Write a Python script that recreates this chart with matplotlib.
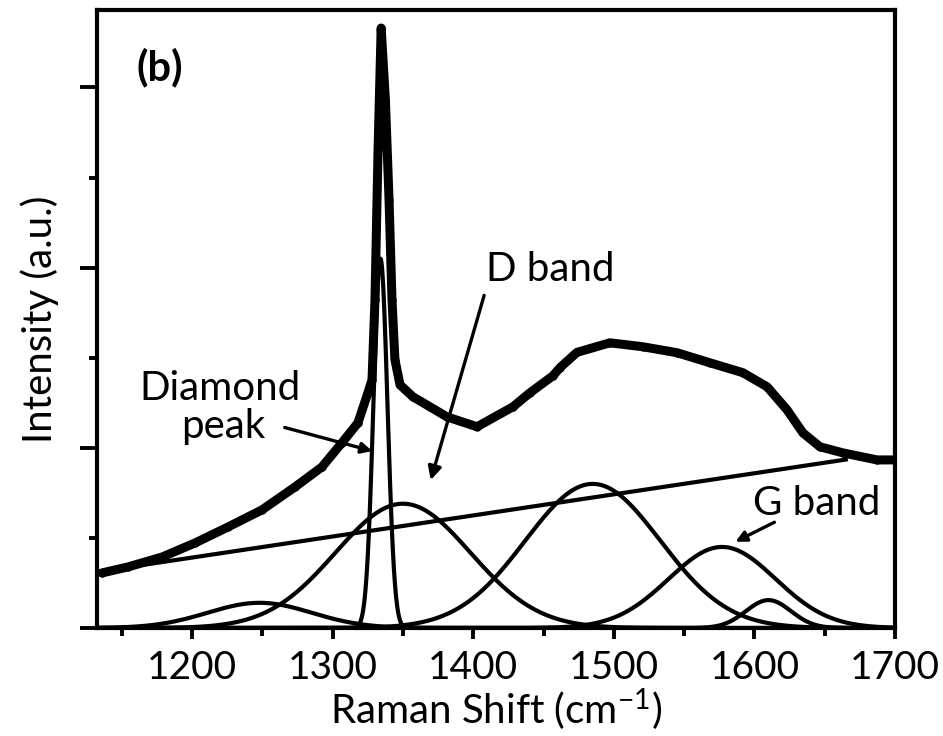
import matplotlib
matplotlib.use("Agg")
import matplotlib.pyplot as plt
import numpy as np

raman_shift = [1136.0, 1154.4, 1178.6, 1202.1, 1225.6, 1249.8, 1273.2, 1292.4,
               1306.6, 1318.0, 1325.1, 1328.0, 1330.1, 1332.3, 1334.5, 1337.5,
               1340.1, 1342.2, 1344.3, 1347.9, 1357.1, 1369.2, 1381.3, 1402.7,
               1428.3, 1440.4, 1456.7, 1461.7, 1473.8, 1497.2, 1520.7, 1544.9,
               1568.4, 1591.8, 1609.0, 1623.2, 1634.5, 1646.6, 1663.0, 1687.1,
               1699.0]
intensity = [0.306, 0.339, 0.394, 0.472, 0.561, 0.656, 0.783, 0.894,
             1.028, 1.139, 1.306, 1.378, 1.822, 2.656, 3.330, 2.933,
             2.378, 1.822, 1.489, 1.350, 1.283, 1.228, 1.172, 1.117,
             1.228, 1.306, 1.400, 1.445, 1.530, 1.583, 1.561, 1.528,
             1.472, 1.417, 1.339, 1.211, 1.083, 1.006, 0.972, 0.933,
             0.933]

# ---- linear background ----
baseline_x = [1135.0, 1665.0]
baseline_y = [0.315, 0.935]

# ---- fitted Gaussian components (center, height, sigma) ----
peak_centers = [1248, 1334, 1350, 1485, 1577, 1610]
peak_heights = [0.14, 2.05, 0.69, 0.80, 0.45, 0.155]
peak_sigmas = [37, 5.0, 48, 48, 38, 16]

x_ticks = [1200, 1300, 1400, 1500, 1600, 1700]
x_tick_labels = ["1200", "1300", "1400", "1500", "1600", "1700"]

plt.rcParams['font.family'] = ['Lato', 'DejaVu Sans']
plt.rcParams['mathtext.fontset'] = 'custom'
plt.rcParams['mathtext.rm'] = 'Lato'
plt.rcParams['mathtext.it'] = 'Lato:italic'

fig = plt.figure(figsize=(9.43, 7.36), dpi=100)
ax = fig.add_axes([0.1029, 0.1467, 0.8462, 0.8397])

ax.set_xlim(1132.4, 1700)
ax.set_ylim(0, 3.43)

grid = np.linspace(1132.4, 1700, 3000)
for c, h, s in zip(peak_centers, peak_heights, peak_sigmas):
    ax.plot(grid, h * np.exp(-0.5 * ((grid - c) / s) ** 2), color='black', lw=3.0,
            solid_capstyle='round')

ax.plot(baseline_x, baseline_y, color='black', lw=3.0)
ax.plot(raman_shift, intensity, color='black', lw=6.5, solid_joinstyle='round',
        solid_capstyle='round')
ax.plot(raman_shift, intensity, 'o', color='black', ms=5)

# annotations
ax.text(1177, 3.11, "(b)", fontsize=30, fontweight='bold', ha='center', va='center')
ax.text(1220, 1.33, "Diamond", fontsize=29, ha='center', va='center')
ax.text(1222, 1.12, "peak", fontsize=29, ha='center', va='center')
ax.annotate("", xy=(1330.1, 0.978), xytext=(1264.0, 1.117),
            arrowprops=dict(arrowstyle='-|>', color='black', lw=2.4,
                            mutation_scale=16))
ax.text(1454.6, 1.99, "D band", fontsize=29, ha='center', va='center')
ax.annotate("", xy=(1369.2, 0.806), xytext=(1408.3, 1.861),
            arrowprops=dict(arrowstyle='-|>', color='black', lw=2.4,
                            mutation_scale=20))
ax.text(1644, 0.69, "G band", fontsize=29, ha='center', va='center')
ax.annotate("", xy=(1584.7, 0.472), xytext=(1616.0, 0.594),
            arrowprops=dict(arrowstyle='-|>', color='black', lw=2.4,
                            mutation_scale=16))

# axes styling
for sp in ax.spines.values():
    sp.set_linewidth(3.0)
ax.set_xticks(x_ticks)
ax.set_xticklabels(x_tick_labels, fontsize=28)
ax.set_xticks([1150, 1250, 1350, 1450, 1550, 1650], minor=True)
ax.set_yticks([0, 1, 2, 3])
ax.set_yticks([0.5, 1.5, 2.5], minor=True)
ax.set_yticklabels([])
ax.tick_params(axis='x', which='major', direction='out', length=8, width=2.8, pad=8)
ax.tick_params(axis='x', which='minor', direction='out', length=6, width=2.8)
ax.tick_params(axis='y', which='major', direction='out', length=12, width=2.8)
ax.tick_params(axis='y', which='minor', direction='out', length=6, width=2.8)

ax.set_xlabel(r"Raman Shift (cm$^{\mathrm{-1}}$)", fontsize=29, labelpad=0)
ax.set_ylabel("Intensity (a.u.)", fontsize=29, labelpad=12)

fig.savefig("out.png", dpi=100)
